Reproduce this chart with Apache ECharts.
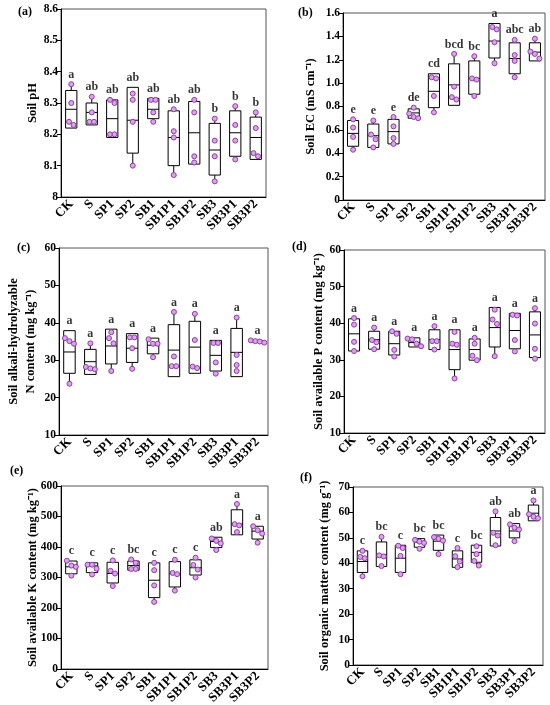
<!DOCTYPE html>
<html>
<head>
<meta charset="utf-8">
<script src="https://cdn.jsdelivr.net/npm/echarts@6/dist/echarts.min.js"></script>
<style>
html, body { margin: 0; padding: 0; background: #fff; }
#chart { width: 550px; height: 705px; }
</style>
</head>
<body>
<div id="chart"></div>
<script>
// categories
const categories = ["CK", "S", "SP1", "SP2", "SB1", "SB1P1", "SB1P2", "SB3", "SB3P1", "SB3P2"]

// (a) soil pH: box = [Q1, median, Q3], pts = 4 replicates
const phBox = [[8.22, 8.28, 8.34], [8.23, 8.27, 8.30], [8.19, 8.25, 8.31], [8.14, 8.245, 8.35], [8.25, 8.28, 8.315],
    [8.10, 8.19, 8.275], [8.105, 8.205, 8.305], [8.07, 8.15, 8.235], [8.13, 8.205, 8.275], [8.12, 8.19, 8.255]]
const phPts = [[8.36, 8.30, 8.24, 8.23], [8.32, 8.27, 8.24, 8.24], [8.31, 8.30, 8.20, 8.20], [8.33, 8.31, 8.24, 8.10], [8.31, 8.31, 8.27, 8.24],
    [8.28, 8.21, 8.19, 8.07], [8.31, 8.27, 8.13, 8.11], [8.25, 8.18, 8.13, 8.05], [8.29, 8.23, 8.18, 8.12], [8.27, 8.22, 8.14, 8.13]]
const phLetters = ["a", "ab", "ab", "ab", "ab", "ab", "ab", "b", "b", "b"]

// (b) soil EC
const ecBox = [[0.46, 0.57, 0.68], [0.45, 0.55, 0.65], [0.48, 0.585, 0.69], [0.70, 0.745, 0.78], [0.79, 0.93, 1.08],
    [0.81, 0.985, 1.165], [0.905, 1.04, 1.19], [1.215, 1.36, 1.51], [1.08, 1.21, 1.345], [1.19, 1.265, 1.345]]
const ecPts = [[0.69, 0.62, 0.54, 0.43], [0.68, 0.56, 0.52, 0.45], [0.71, 0.63, 0.53, 0.48], [0.79, 0.74, 0.71, 0.70], [1.05, 1.04, 0.89, 0.75],
    [1.25, 0.97, 0.88, 0.86], [1.23, 1.04, 1.03, 0.89], [1.48, 1.46, 1.35, 1.17], [1.37, 1.24, 1.19, 1.05], [1.38, 1.27, 1.25, 1.21]]
const ecLetters = ["e", "e", "e", "de", "cd", "bcd", "bc", "a", "abc", "ab"]

// (c) alkali-hydrolyzable N
const nBox = [[26.5, 32.2, 37.9], [26.2, 29.6, 32.9], [29.0, 33.8, 38.3], [29.4, 33.2, 37.1], [31.7, 34.0, 35.9],
    [25.6, 32.7, 39.5], [26.5, 33.5, 40.4], [27.1, 31.3, 35.3], [25.6, 32.1, 38.5], [34.8, 35.0, 35.2]]
const nPts = [[35.9, 35.1, 34.4, 23.7], [34.5, 28.2, 27.8, 27.6], [37.5, 35.9, 34.5, 27.1], [36.1, 36.1, 33.2, 27.7], [35.6, 34.4, 34.4, 30.8],
    [42.9, 31.0, 28.4, 28.4], [42.4, 35.4, 28.3, 27.9], [34.6, 34.6, 29.4, 26.4], [41.4, 31.4, 28.7, 27.1], [35.3, 35.1, 35.0, 34.7]]
const nLetters = ["a", "a", "a", "a", "a", "a", "a", "a", "a", "a"]

// (d) available P
const pBox = [[32.4, 37.1, 41.2], [32.9, 35.5, 37.8], [31.3, 34.4, 37.8], [33.5, 34.7, 36.0], [32.8, 35.5, 38.2],
    [27.3, 32.8, 38.2], [29.9, 32.8, 35.7], [33.5, 38.8, 44.3], [33.0, 38.0, 42.7], [30.6, 36.8, 43.1]]
const pPts = [[41.4, 39.6, 34.9, 32.4], [38.8, 35.4, 34.8, 32.9], [37.8, 37.1, 32.7, 30.9], [35.8, 35.6, 34.4, 33.7], [39.2, 35.1, 35.1, 32.8],
    [37.6, 34.4, 34.1, 24.9], [36.0, 34.4, 31.1, 29.9], [43.7, 41.0, 39.8, 31.0], [42.3, 42.1, 35.4, 32.3], [44.1, 39.9, 33.0, 30.3]]
const pLetters = ["a", "a", "a", "a", "a", "a", "a", "a", "a", "a"]

// (e) available K
const kBox = [[312, 335, 354], [316, 338, 348], [282, 313, 350], [324, 339, 354], [234, 291, 348],
    [269, 313, 352], [308, 332, 358], [398, 418, 432], [440, 475, 522], [426, 452, 468]]
const kPts = [[355, 339, 335, 306], [342, 342, 329, 310], [356, 322, 313, 272], [359, 348, 328, 328], [348, 324, 274, 220],
    [358, 315, 311, 257], [365, 341, 326, 300], [428, 420, 412, 390], [541, 475, 471, 449], [468, 455, 444, 414]]
const kLetters = ["c", "c", "c", "bc", "c", "c", "c", "ab", "a", "a"]

// (f) organic matter
const omBox = [[36.4, 40.7, 44.9], [38.7, 43.3, 48.4], [36.4, 42.0, 47.1], [46.3, 48.3, 49.7], [45.1, 48.7, 51.1],
    [38.4, 41.7, 44.9], [40.4, 44.3, 47.1], [46.8, 52.7, 58.0], [50.0, 52.7, 55.6], [56.7, 59.7, 62.9]]
const omPts = [[44.9, 42.5, 42.0, 34.9], [50.4, 43.1, 42.7, 38.9], [46.9, 46.0, 42.9, 35.7], [49.2, 48.5, 48.0, 45.7], [50.3, 49.6, 48.9, 43.6],
    [46.0, 42.8, 40.7, 38.5], [46.7, 43.6, 40.9, 39.1], [60.4, 52.0, 50.9, 47.1], [55.3, 54.0, 53.3, 48.7], [64.7, 59.3, 58.3, 57.7]]
const omLetters = ["c", "bc", "c", "bc", "bc", "c", "bc", "ab", "ab", "a"]

const FONT = "Liberation Serif"
const oneDecimal = (v) => (v === 0 || v === 8 ? String(v) : v.toFixed(1))

const panels = [
    { tag: "(a)", box: phBox, pts: phPts, letters: phLetters, min: 8, max: 8.6, step: 0.1, fmt: oneDecimal,
        title: "Soil pH", grid: { left: 61, top: 9, width: 205, height: 188 }, gap: 20, tagAt: [18, 6] },
    { tag: "(b)", box: ecBox, pts: ecPts, letters: ecLetters, min: 0, max: 1.6, step: 0.2, fmt: oneDecimal,
        title: "Soil EC (mS cm⁻¹)", grid: { left: 343, top: 13, width: 202, height: 187 }, gap: 24, tagAt: [298, 7] },
    { tag: "(c)", box: nBox, pts: nPts, letters: nLetters, min: 10, max: 60, step: 10,
        title: "Soil alkali-hydrolyzable\nN content (mg kg⁻¹)", grid: { left: 59, top: 248, width: 209, height: 187 }, gap: 20, tagAt: [17, 242] },
    { tag: "(d)", box: pBox, pts: pPts, letters: pLetters, min: 10, max: 60, step: 10,
        title: "Soil available P content (mg kg⁻¹)", grid: { left: 344, top: 250, width: 201, height: 183 }, gap: 17, tagAt: [292, 241] },
    { tag: "(e)", box: kBox, pts: kPts, letters: kLetters, min: 0, max: 600, step: 100,
        title: "Soil available K content (mg kg⁻¹)", grid: { left: 61, top: 486, width: 207, height: 183 }, gap: 20, tagAt: [10, 465] },
    { tag: "(f)", box: omBox, pts: omPts, letters: omLetters, min: 0, max: 70, step: 10,
        title: "Soil organic matter content (mg g⁻¹)", grid: { left: 353, top: 487, width: 190, height: 178 }, gap: 20, tagAt: [300, 472] },
]

// spread tied points sideways so they stay visible
function spread(vals, range) {
    const order = vals.map((v, k) => k).sort((a, b) => vals[b] - vals[a])
    const off = new Array(vals.length).fill(0)
    let start = 0
    for (let k = 1; k <= order.length; k++) {
        if (k === order.length || vals[order[k - 1]] - vals[order[k]] > range * 0.03) {
            const n = k - start
            for (let j = start; j < k; j++) off[order[j]] = (j - start - (n - 1) / 2) * 4.5
            start = k
        }
    }
    return off
}

function renderBox(params, api) {
    const i = api.value(0)
    const lo = api.coord([i, api.value(1)])
    const q1 = api.coord([i, api.value(2)])
    const md = api.coord([i, api.value(3)])
    const q3 = api.coord([i, api.value(4)])
    const hi = api.coord([i, api.value(5)])
    const w = api.size([1, 0])[0] * 0.55
    const x = q1[0]
    const st = { stroke: "#000", lineWidth: 1, fill: null }
    const kids = []
    if (hi[1] < q3[1] - 0.5) kids.push({ type: "line", shape: { x1: x, y1: q3[1], x2: x, y2: hi[1] }, style: st })
    if (lo[1] > q1[1] + 0.5) kids.push({ type: "line", shape: { x1: x, y1: q1[1], x2: x, y2: lo[1] }, style: st })
    kids.push({ type: "rect", shape: { x: x - w / 2, y: q3[1], width: w, height: q1[1] - q3[1] },
        style: { stroke: "#000", lineWidth: 1, fill: "#fff" } })
    kids.push({ type: "line", shape: { x1: x - w / 2, y1: md[1], x2: x + w / 2, y2: md[1] }, style: st })
    return { type: "group", children: kids }
}

const grid = [], xAxis = [], yAxis = [], series = [], graphic = []
panels.forEach((p, k) => {
    grid.push(Object.assign({ show: true, borderColor: "#555", borderWidth: 1, containLabel: false, outerBoundsMode: "none" }, p.grid))
    xAxis.push({
        gridIndex: k, type: "category", data: categories,
        axisLine: { lineStyle: { color: "#000", width: 1 } },
        axisTick: { alignWithLabel: true, length: 3, lineStyle: { color: "#000" } },
        axisLabel: { interval: 0, rotate: 45, margin: 5, color: "#000", fontFamily: FONT, fontWeight: "bold", fontSize: 13 },
        splitLine: { show: false },
    })
    yAxis.push({
        gridIndex: k, type: "value", min: p.min, max: p.max, interval: p.step,
        name: p.title, nameLocation: "middle", nameGap: p.gap, nameMoveOverlap: false,
        nameTextStyle: { color: "#000", fontFamily: FONT, fontWeight: "bold", fontSize: 12.5, lineHeight: 17 },
        axisLine: { show: true, lineStyle: { color: "#000", width: 1 } },
        axisTick: { show: true, length: 4, lineStyle: { color: "#000" } },
        axisLabel: { margin: 3, color: "#000", fontFamily: FONT, fontWeight: "bold", fontSize: 11.5, formatter: p.fmt },
        splitLine: { show: false },
    })
    const range = p.max - p.min
    series.push({
        type: "custom", xAxisIndex: k, yAxisIndex: k, renderItem: renderBox, z: 2,
        encode: { x: 0, y: [1, 2, 3, 4, 5] },
        data: p.box.map((b, i) => [i, Math.min(b[0], ...p.pts[i]), b[0], b[1], b[2], Math.max(b[2], ...p.pts[i])]),
    })
    const dots = []
    p.pts.forEach((vals, i) => {
        const off = spread(vals, range)
        vals.forEach((v, j) => dots.push({ value: [i, v], symbolOffset: [off[j], 0] }))
    })
    series.push({
        type: "scatter", xAxisIndex: k, yAxisIndex: k, z: 3, symbolSize: 5,
        itemStyle: { color: "#dca2eb", borderColor: "#8e3ea3", borderWidth: 1, opacity: 1 },
        data: dots,
    })
    series.push({
        type: "scatter", xAxisIndex: k, yAxisIndex: k, z: 4, symbolSize: 1,
        itemStyle: { color: "rgba(0,0,0,0)" },
        label: { show: true, position: "top", distance: 3, color: "#000", fontFamily: FONT, fontWeight: "bold", fontSize: 12,
            formatter: (d) => p.letters[d.dataIndex] },
        data: p.box.map((b, i) => [i, Math.max(b[2], ...p.pts[i])]),
    })
    graphic.push({ type: "text", left: p.tagAt[0], top: p.tagAt[1],
        style: { text: p.tag, font: 'bold 12px "Liberation Serif"', fill: "#000" } })
})

const myChart = echarts.init(document.getElementById("chart"), null, { renderer: "canvas" })
myChart.setOption({
    animation: false,
    backgroundColor: "#fff",
    grid, xAxis, yAxis, series, graphic,
})
</script>
</body>
</html>
